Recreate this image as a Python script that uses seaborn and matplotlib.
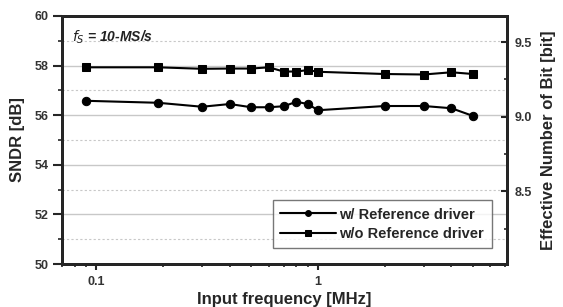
import numpy as np
import pandas as pd
import seaborn as sns
import matplotlib.pyplot as plt
from matplotlib.ticker import FixedLocator, MultipleLocator, NullFormatter

# Data
freq_mhz = [0.09, 0.19, 0.3, 0.4, 0.5, 0.6, 0.7, 0.8, 0.9, 1, 2, 3, 4, 5]
sndr_with = [56.58, 56.50, 56.34, 56.45, 56.32, 56.32, 56.36, 56.54, 56.45,
             56.20, 56.37, 56.37, 56.28, 55.97]
sndr_without = [57.93, 57.93, 57.87, 57.88, 57.88, 57.93, 57.76, 57.76, 57.82,
                57.75, 57.66, 57.64, 57.73, 57.66]
label_with = 'w/ Reference driver'
label_without = 'w/o Reference driver'

df = pd.DataFrame({
    'freq': freq_mhz * 2,
    'sndr': sndr_with + sndr_without,
    'series': [label_with] * len(freq_mhz) + [label_without] * len(freq_mhz),
})

sns.set_style('ticks')
plt.rcParams['font.family'] = ['Liberation Sans', 'DejaVu Sans']

fig = plt.figure(figsize=(5.63, 3.07), dpi=100)
ax = fig.add_axes([0.110, 0.140, 0.790, 0.808])

sns.lineplot(data=df, x='freq', y='sndr', hue='series', style='series',
             markers={label_with: 'o', label_without: 's'},
             dashes=False, palette=['black', 'black'],
             markersize=6, linewidth=1.5, markeredgecolor='black', ax=ax)

ax.set_xscale('log')
ax.set_xlim(0.07, 7.1)
ax.set_ylim(50, 60)
ax.yaxis.set_major_locator(MultipleLocator(2))
ax.yaxis.set_minor_locator(MultipleLocator(1))
ax.set_xticks([0.1, 1])
ax.set_xticklabels(['0.1', '1'])
ax.xaxis.set_minor_formatter(NullFormatter())

ax.grid(which='major', axis='y', color='#c8c8c8', linewidth=1.0, linestyle='-')
ax.grid(which='minor', axis='y', color='#c8c8c8', linewidth=0.8, linestyle=(0, (2, 2)))
ax.set_axisbelow(True)

for s in ax.spines.values():
    s.set_linewidth(2)
    s.set_color('black')

ax.tick_params(axis='y', which='major', direction='out', length=6.5, width=1.5, labelsize=9, pad=3)
ax.tick_params(axis='y', which='minor', direction='out', length=3, width=1.2)
ax.tick_params(axis='x', which='major', direction='out', length=4.5, width=1.5, labelsize=9, pad=4)
ax.tick_params(axis='x', which='minor', direction='out', length=2.5, width=1.2)
for lab in ax.get_xticklabels() + ax.get_yticklabels():
    lab.set_fontweight('bold')
    lab.set_color('#333333')

ax.set_xlabel('Input frequency [MHz]', fontsize=12, fontweight='bold', labelpad=3)
ax.set_ylabel('SNDR [dB]', fontsize=12, fontweight='bold', labelpad=7)

ax.text(0.078, 59.15, r'$f_S$ = 10-MS/s', fontsize=10, fontstyle='italic',
        fontweight='bold', color='#222222', va='center')

# ENOB axis
ax2 = ax.twinx()
to_enob = lambda v: (v - 1.76) / 6.02
ax2.set_ylim(to_enob(50), to_enob(60))
ax2.yaxis.set_major_locator(FixedLocator([8.5, 9.0, 9.5]))
ax2.yaxis.set_minor_locator(MultipleLocator(0.25))
ax2.set_yticklabels(['8.5', '9.0', '9.5'])
ax2.tick_params(which='major', direction='in', length=4, width=1.5, labelsize=9, pad=6)
ax2.tick_params(which='minor', direction='in', length=2.5, width=1.2)
for lab in ax2.get_yticklabels():
    lab.set_fontweight('bold')
    lab.set_color('#333333')
ax2.set_ylabel('Effective Number of Bit [bit]', fontsize=12, fontweight='bold', labelpad=6)
for s in ax2.spines.values():
    s.set_linewidth(2)

leg = ax.legend(loc='lower right', bbox_to_anchor=(0.966, 0.065), borderaxespad=0,
                fontsize=10.5, frameon=True, fancybox=False, edgecolor='#555555',
                handlelength=3.8, handletextpad=0.25, borderpad=0.5,
                labelspacing=0.35, markerscale=0.7)
leg.get_frame().set_linewidth(1.0)
for t in leg.get_texts():
    t.set_fontweight('bold')

fig.savefig('out.png', dpi=100)
